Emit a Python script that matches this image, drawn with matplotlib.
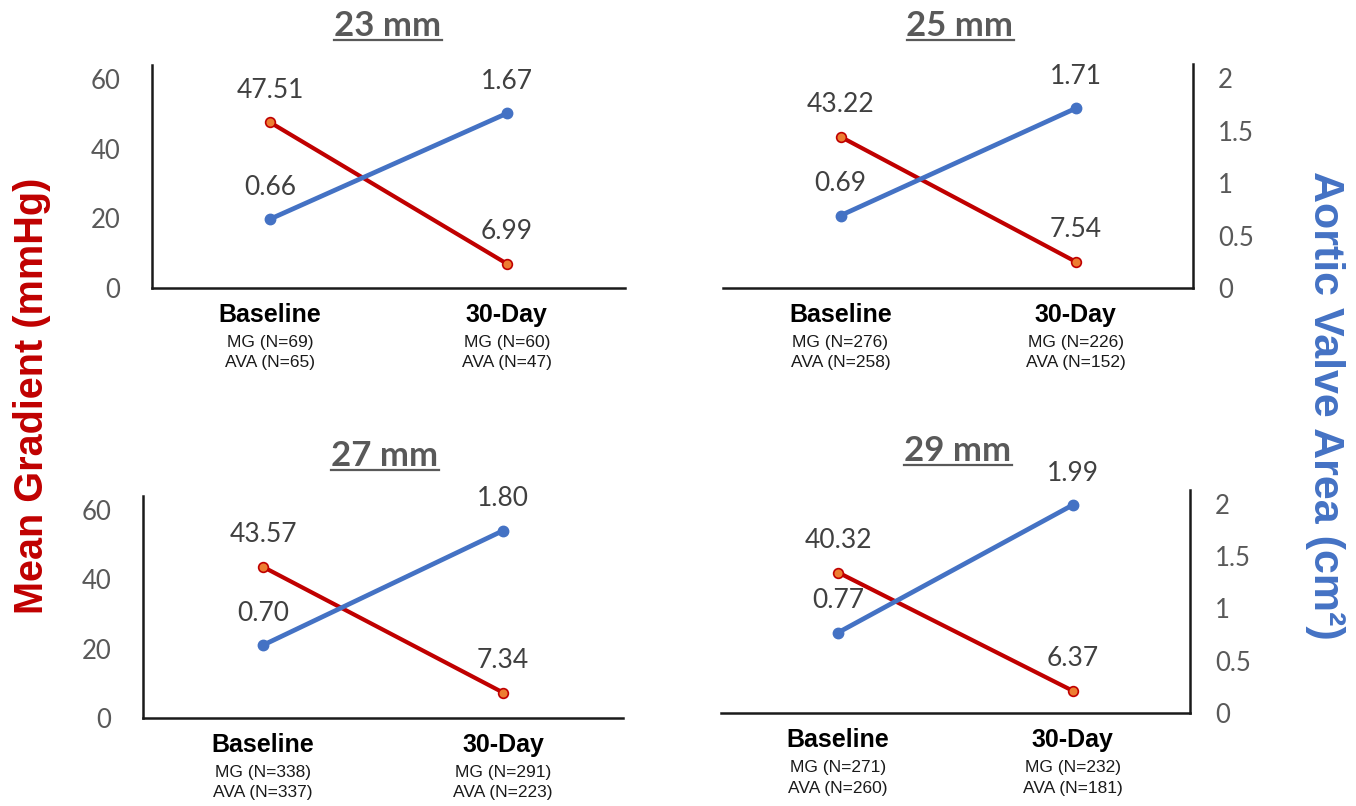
import matplotlib
matplotlib.use("Agg")
import matplotlib.pyplot as plt
from matplotlib.lines import Line2D

# ---- data -------------------------------------------------------------
sizes = ["23 mm", "25 mm", "27 mm", "29 mm"]
timepoints = ["Baseline", "30-Day"]
mg_values = [[47.51, 6.99], [43.22, 7.54], [43.57, 7.34], [40.32, 6.37]]
ava_values = [[0.66, 1.67], [0.69, 1.71], [0.70, 1.80], [0.77, 1.99]]
mg_n = [[69, 60], [276, 226], [338, 291], [271, 232]]
ava_n = [[65, 47], [258, 152], [337, 223], [260, 181]]
mg_ticks = [0, 20, 40, 60]
mg_tick_labels = ["0", "20", "40", "60"]
ava_ticks = [0, 0.5, 1, 1.5, 2]
ava_tick_labels = ["0", "0.5", "1", "1.5", "2"]

# ---- styling ------------------------------------------------------------
W, H, DPI = 1356, 806, 100
RED = "#C00000"
ORANGE = "#ED7D31"
BLUE = "#4472C4"
TICK_GRAY = "#595959"
LABEL_GRAY = "#404040"
NUM_FONT = ["Lato", "DejaVu Sans"]
SANS = ["Liberation Sans", "DejaVu Sans"]
MG_MAX = 64.0
AVA_MAX = MG_MAX / 30.0

# panel boxes in pixels: left, top, right, bottom; title centre x, title baseline y;
# which side carries the visible value axis
panels = [
    dict(box=(152, 65, 625, 288), title=(388, 36), side="left"),
    dict(box=(723, 64, 1193, 288), title=(960, 36), side="right"),
    dict(box=(143, 496, 623, 718), title=(385, 466), side="left"),
    dict(box=(721, 490, 1190, 713), title=(958, 461), side="right"),
]

fig = plt.figure(figsize=(W / DPI, H / DPI), dpi=DPI)
fig.patch.set_facecolor("white")


def px_rect(l, t, r, b):
    return [l / W, 1 - b / H, (r - l) / W, (b - t) / H]


titles = []
for k, p in enumerate(panels):
    ax = fig.add_axes(px_rect(*p["box"]))
    ax2 = ax.twinx()
    xs = list(range(len(timepoints)))

    ax.set_xlim(-0.5, 1.5)
    ax.set_ylim(0, MG_MAX)
    ax2.set_ylim(0, AVA_MAX)

    ax.plot(xs, mg_values[k], color=RED, lw=3, marker="o", ms=7,
            mfc=ORANGE, mec=RED, mew=1.2, solid_capstyle="round", zorder=3)
    ax2.plot(xs, ava_values[k], color=BLUE, lw=3.4, marker="o", ms=7.5,
             mfc=BLUE, mec=BLUE, solid_capstyle="round", zorder=3)

    for x, v in zip(xs, mg_values[k]):
        ax.annotate(f"{v:.2f}", (x, v), xytext=(0, 23), textcoords="offset points",
                    ha="center", va="center", fontsize=19, color=LABEL_GRAY,
                    family=NUM_FONT)
    for x, v in zip(xs, ava_values[k]):
        ax2.annotate(f"{v:.2f}", (x, v), xytext=(0, 23), textcoords="offset points",
                     ha="center", va="center", fontsize=19, color=LABEL_GRAY,
                     family=NUM_FONT)

    # spines
    for a in (ax, ax2):
        for s in ("top", "left", "right", "bottom"):
            a.spines[s].set_visible(False)
    ax.spines["bottom"].set_visible(True)
    ax.spines["bottom"].set_linewidth(1.8)
    ax.spines["bottom"].set_color("#1a1a1a")

    # category labels
    ax.set_xticks(xs)
    ax.set_xticklabels(timepoints, fontsize=18, fontweight="bold", family=SANS,
                       color="black")
    ax.tick_params(axis="x", length=0, pad=11)
    for x, a_n, b_n in zip(xs, mg_n[k], ava_n[k]):
        ax.annotate(f"MG (N={a_n})", (x, 0), xycoords=("data", "axes fraction"),
                    xytext=(0, -39.5), textcoords="offset points", ha="center",
                    va="center", fontsize=12.5, family=SANS, color="#1a1a1a")
        ax.annotate(f"AVA (N={b_n})", (x, 0), xycoords=("data", "axes fraction"),
                    xytext=(0, -54), textcoords="offset points", ha="center",
                    va="center", fontsize=12.5, family=SANS, color="#1a1a1a")

    if p["side"] == "left":
        ax.spines["left"].set_visible(True)
        ax.spines["left"].set_linewidth(1.8)
        ax.spines["left"].set_color("#1a1a1a")
        ax.set_yticks(mg_ticks)
        ax.set_yticklabels(mg_tick_labels, fontsize=18.5, color=TICK_GRAY,
                           family=NUM_FONT)
        ax.tick_params(axis="y", length=0, pad=23)
        ax2.set_yticks([])
    else:
        ax2.spines["right"].set_visible(True)
        ax2.spines["right"].set_linewidth(1.8)
        ax2.spines["right"].set_color("#1a1a1a")
        ax2.set_yticks(ava_ticks)
        ax2.set_yticklabels(ava_tick_labels, fontsize=18.5, color=TICK_GRAY,
                            family=NUM_FONT)
        ax2.tick_params(axis="y", length=0, pad=18)
        ax.set_yticks([])

    tx, ty = p["title"]
    t = fig.text(tx / W, 1 - ty / H, sizes[k], ha="center", va="baseline",
                 fontsize=25, fontweight="bold", color=TICK_GRAY, family=NUM_FONT)
    titles.append((t, ty))

# shared axis titles
fig.text(32 / W, 1 - 396 / H, "Mean Gradient (mmHg)", rotation=90, ha="center",
         va="center", fontsize=28.5, fontweight="bold", color=RED, family=SANS)
fig.text(1325 / W, 1 - 405 / H, "Aortic Valve Area (cm²)", rotation=-90,
         ha="center", va="center", fontsize=31, fontweight="bold", color=BLUE,
         family=SANS)

# underline the panel titles
fig.canvas.draw()
renderer = fig.canvas.get_renderer()
for t, ty in titles:
    bb = t.get_window_extent(renderer)
    y = 1 - (ty + 3.5) / H
    fig.add_artist(Line2D([bb.x0 / W, bb.x1 / W], [y, y], color=TICK_GRAY,
                          lw=1.6, transform=fig.transFigure))

fig.savefig("out.png", dpi=DPI, facecolor="white")
